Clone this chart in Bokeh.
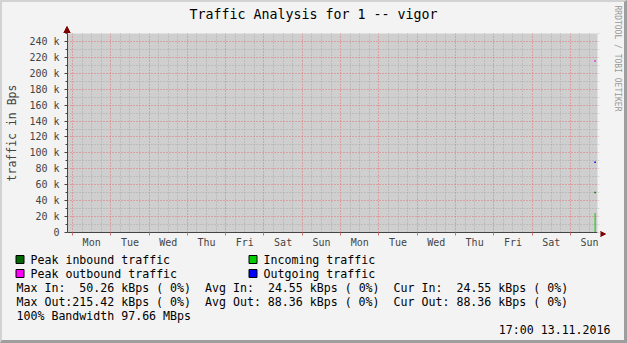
import math
import re
from bokeh.plotting import figure
from bokeh.layouts import column, row
from bokeh.models import (Range1d, FixedTicker, LinearAxis, Label, BoxAnnotation,
                          Grid, Arrow, NormalHead)
from bokeh.embed import file_html
from bokeh.resources import INLINE

FONT = "DejaVu Sans Mono"

# ---------------- data ----------------
# x values are hours since Mon 31.10.2016 00:00
day_labels = ["Mon", "Tue", "Wed", "Thu", "Fri", "Sat", "Sun",
              "Mon", "Tue", "Wed", "Thu", "Fri", "Sat", "Sun"]
day_label_hours = [12, 36, 60, 84, 108, 132, 156, 180, 204, 228, 252, 276, 300, 324]
day_boundary_hours = [0, 24, 48, 72, 96, 120, 144, 168, 192, 216, 240, 264, 288, 312]

sample_hours = [327.5]
incoming_bps = [24550]
outgoing_bps = [88360]
peak_in_bps = [50260]
peak_out_bps = [215420]

y_ticks = [0, 20000, 40000, 60000, 80000, 100000, 120000, 140000,
           160000, 180000, 200000, 220000, 240000]
y_tick_labels = ["0", "20 k", "40 k", "60 k", "80 k", "100 k", "120 k", "140 k",
                 "160 k", "180 k", "200 k", "220 k", "240 k"]

max_in_k, avg_in_k, cur_in_k = 50.26, 24.55, 24.55
max_out_k, avg_out_k, cur_out_k = 215.42, 88.36, 88.36
bandwidth_mbps = 97.66
timestamp = "17:00 13.11.2016"
title_text = "Traffic Analysis for 1 -- vigor"
credit_text = "RRDTOOL / TOBI OETIKER"

legend_names = ["Peak inbound traffic", "Incoming traffic",
                "Peak outbound traffic", "Outgoing traffic"]
legend_colors = ["#006600", "#00cc00", "#ff00ff", "#0000ff"]

BG = "#f3f3f3"
AXIS = "#444444"
ARROW = "#7f0000"
OX, OY = 2, 2          # light 3D border at left / top (page pixels)


def blank(w, h):
    fig = figure(width=w, height=h, output_backend="svg", toolbar_location=None,
                 x_range=Range1d(0, 1), y_range=Range1d(0, 1),
                 x_axis_type=None, y_axis_type=None,
                 min_border_left=0, min_border_right=0, min_border_top=0, min_border_bottom=0,
                 background_fill_color=BG, border_fill_color=BG, outline_line_color=None)
    fig.title.visible = False
    fig.frame_align = False
    fig.grid.visible = False
    return fig


# ---------------- header (title + y-axis arrow), page y 2..33 ----------------
HEAD_TOP, HEAD_BOTTOM = OY, 33
head = blank(600 - OX, HEAD_BOTTOM - HEAD_TOP)
head.add_layout(Label(x=313 - OX, y=HEAD_BOTTOM - 14.4, x_units="screen", y_units="screen",
                      text=title_text, text_font=FONT, text_font_size="13.3px",
                      text_color="#000000", text_align="center", text_baseline="middle"))
head.add_layout(Arrow(x_start=66.5 - OX, y_start=0, x_end=66.5 - OX, y_end=HEAD_BOTTOM - 26,
                      start_units="screen", end_units="screen",
                      line_color=AXIS, line_width=1, start=None,
                      end=NormalHead(size=7, fill_color=ARROW, line_color=ARROW)))

# ---------------- main chart, page x 2..600, y 33..250 ----------------
p = figure(width=600 - OX, height=250 - HEAD_BOTTOM, output_backend="svg", toolbar_location=None,
           x_range=Range1d(-3.13, 329.0), y_range=Range1d(0, 250000),
           x_axis_type=None, y_axis_type=None,
           min_border_left=67 - OX, min_border_right=3, min_border_top=0, min_border_bottom=17,
           background_fill_color="#cfcfcf", border_fill_color=BG,
           outline_line_color=None)
p.title.visible = False
p.frame_align = False

six_hours = [h for h in range(0, 330, 6) if h % 24 != 0]
y_minor = [10000 + 20000 * i for i in range(13)]

p.add_layout(Grid(dimension=0, ticker=FixedTicker(ticks=day_boundary_hours, minor_ticks=six_hours),
                  grid_line_color="#e07070", grid_line_dash="1 2",
                  minor_grid_line_color="#a8a8a8", minor_grid_line_dash="1 2"))
p.add_layout(Grid(dimension=1, ticker=FixedTicker(ticks=y_ticks, minor_ticks=y_minor),
                  grid_line_color="#e07070", grid_line_dash="1 2",
                  minor_grid_line_color="#a8a8a8", minor_grid_line_dash="1 2"))

yax = LinearAxis(ticker=FixedTicker(ticks=y_ticks, minor_ticks=y_minor),
                 major_label_overrides={t: l for t, l in zip(y_ticks, y_tick_labels)},
                 axis_label="traffic in Bps", axis_label_text_font=FONT,
                 axis_label_text_font_size="11.5px", axis_label_text_font_style="normal",
                 axis_label_standoff=7,
                 major_label_text_font=FONT, major_label_text_font_size="10px",
                 major_label_standoff=5,
                 axis_line_color=AXIS, major_tick_line_color=AXIS,
                 minor_tick_line_color=AXIS,
                 major_tick_in=0, major_tick_out=3, minor_tick_in=0, minor_tick_out=2)
p.add_layout(yax, "left")

xax = LinearAxis(ticker=FixedTicker(ticks=day_label_hours, minor_ticks=day_boundary_hours),
                 major_label_overrides={h: l for h, l in zip(day_label_hours, day_labels)},
                 major_label_text_font=FONT, major_label_text_font_size="10px",
                 major_label_standoff=1,
                 axis_line_color=AXIS, major_tick_line_color=None,
                 major_tick_in=0, major_tick_out=0,
                 minor_tick_line_color="#d07070", minor_tick_in=0, minor_tick_out=3)
p.add_layout(xax, "below")

rax = LinearAxis(ticker=FixedTicker(ticks=[], minor_ticks=sorted(y_ticks + y_minor)),
                 axis_line_color=None, minor_tick_line_color="#d8d8d8",
                 minor_tick_in=0, minor_tick_out=2, major_label_standoff=0)
p.add_layout(rax, "right")

p.vbar(x=sample_hours, top=incoming_bps, bottom=0, width=0.6,
       fill_color="#00cc00", line_color=None)
p.scatter(x=sample_hours, y=peak_in_bps, marker="square", size=1.5,
          fill_color="#006600", line_color=None)
p.scatter(x=sample_hours, y=outgoing_bps, marker="square", size=1.5,
          fill_color="#0000ff", line_color=None)
p.scatter(x=sample_hours, y=peak_out_bps, marker="square", size=1.5,
          fill_color="#ff00ff", line_color=None)

# ---------------- right strip (credit text + x-axis arrow), page x 600..624 ----------------
STRIP_TOP, STRIP_BOTTOM = OY, 250
strip = blank(24, STRIP_BOTTOM - STRIP_TOP)
strip.add_layout(Label(x=16.5, y=STRIP_BOTTOM - 5, x_units="screen", y_units="screen",
                       text=credit_text, text_font=FONT, text_font_size="8px",
                       text_color="#999999", text_align="left", text_baseline="middle",
                       angle=-math.pi / 2))
strip.add_layout(Arrow(x_start=0, y_start=STRIP_BOTTOM - 233.5,
                       x_end=5, y_end=STRIP_BOTTOM - 233.5,
                       start_units="screen", end_units="screen",
                       line_color=AXIS, line_width=1, start=None,
                       end=NormalHead(size=7, fill_color=ARROW, line_color=ARROW)))

# ---------------- legend / statistics block, page y 250..340 ----------------
F_TOP, F_BOTTOM = 250, 340
foot = blank(624 - OX, F_BOTTOM - F_TOP)
CHAR_W = 0.602 * 11.6


def txt(x, y, s, align="left"):
    foot.add_layout(Label(x=x - OX, y=F_BOTTOM - y, x_units="screen", y_units="screen", text=s,
                          text_font=FONT, text_font_size="11.6px", text_color="#000000",
                          text_align=align, text_baseline="middle"))


def txt_line(x0, y, line):
    # place monospace runs at their column so that multiple spaces are kept
    for m in re.finditer(r"\S+(?: \S+)*", line):
        txt(x0 + m.start() * CHAR_W, y, m.group())


legend_pos = [(15, 259), (248, 259), (15, 273), (248, 273)]
for (lx, ly), name, col in zip(legend_pos, legend_names, legend_colors):
    foot.add_layout(BoxAnnotation(left=lx - OX + 0.5, right=lx - OX + 8.5,
                                  top=F_BOTTOM - ly + 4, bottom=F_BOTTOM - ly - 4,
                                  left_units="screen", right_units="screen",
                                  top_units="screen", bottom_units="screen",
                                  fill_color=col, fill_alpha=1.0,
                                  line_color="#000000", line_width=1, line_alpha=1.0))
    txt(lx + 15, ly, name)

line_in = (f"Max In:{max_in_k:7.2f} kBps ( 0%)  Avg In:{avg_in_k:7.2f} kBps ( 0%)  "
           f"Cur In:{cur_in_k:7.2f} kBps ( 0%)")
line_out = (f"Max Out:{max_out_k:6.2f} kBps ( 0%)  Avg Out:{avg_out_k:6.2f} kBps ( 0%)  "
            f"Cur Out:{cur_out_k:6.2f} kBps ( 0%)")
txt_line(16, 287, line_in)
txt_line(16, 301, line_out)
txt(16, 315, f"100% Bandwidth {bandwidth_mbps:.2f} MBps")
txt(610, 329, timestamp, align="right")

layout = column(row(column(head, p, spacing=0), strip, spacing=0), foot, spacing=0,
                styles={"border-style": "solid", "border-width": "2px 3px 3px 2px",
                        "border-color": "#d2d2d2 #9e9e9e #9e9e9e #d2d2d2",
                        "background-color": BG})

open("out.html", "w").write(file_html(layout, INLINE))
